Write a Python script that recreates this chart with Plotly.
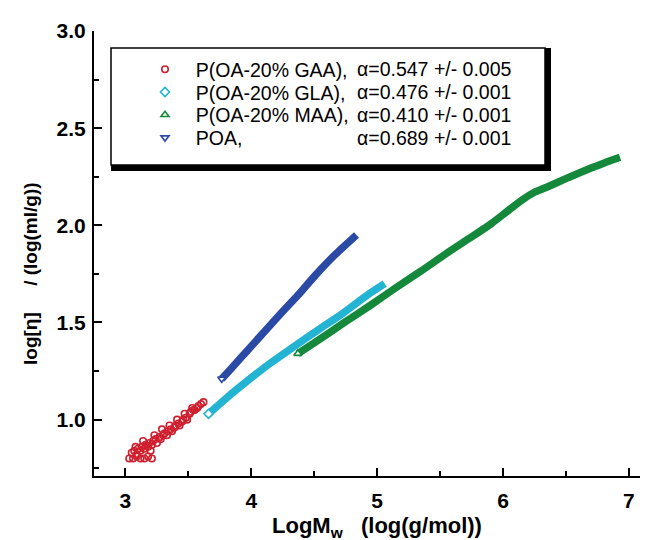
import plotly.graph_objects as go

# ---------------- data ----------------
gaa_x = [3.03, 3.06, 3.09, 3.12, 3.15, 3.18, 3.21,
         3.05, 3.07, 3.09, 3.10, 3.12, 3.13, 3.15, 3.16, 3.18, 3.19, 3.20, 3.21, 3.22,
         3.24, 3.25, 3.27, 3.28, 3.30, 3.31, 3.33, 3.34, 3.36, 3.37, 3.39, 3.40, 3.42,
         3.43, 3.45, 3.46, 3.48, 3.49, 3.51, 3.52, 3.54, 3.55, 3.57, 3.58, 3.60, 3.62,
         3.08, 3.14, 3.23, 3.29, 3.35, 3.41, 3.47, 3.53]
gaa_y = [0.80, 0.80, 0.81, 0.80, 0.80, 0.81, 0.80,
         0.83, 0.84, 0.82, 0.85, 0.84, 0.86, 0.85, 0.87, 0.86, 0.88, 0.84, 0.87, 0.89,
         0.90, 0.88, 0.91, 0.90, 0.92, 0.93, 0.92, 0.94, 0.95, 0.94, 0.96, 0.97, 0.98,
         0.97, 0.99, 1.00, 1.01, 1.00, 1.03, 1.04, 1.05, 1.05, 1.06, 1.07, 1.08, 1.09,
         0.86, 0.89, 0.92, 0.95, 0.97, 1.00, 1.03, 1.06]

gla_x = [3.66, 3.80, 3.97, 4.15, 4.37, 4.55, 4.69, 4.93, 5.06]
gla_y = [1.03, 1.11, 1.20, 1.29, 1.39, 1.47, 1.53, 1.645, 1.70]

maa_x = [4.37, 4.50, 4.74, 4.95, 5.14, 5.35, 5.55, 5.75, 5.91, 6.03, 6.15,
         6.25, 6.36, 6.50, 6.68, 6.80, 6.93]
maa_y = [1.34, 1.395, 1.50, 1.59, 1.675, 1.765, 1.855, 1.94, 2.01, 2.07, 2.13,
         2.17, 2.20, 2.24, 2.29, 2.32, 2.35]

poa_x = [3.765, 3.85, 3.975, 4.10, 4.24, 4.37, 4.505, 4.66, 4.836]
poa_y = [1.21, 1.27, 1.36, 1.45, 1.55, 1.64, 1.74, 1.845, 1.95]

names = ["P(OA-20% GAA),", "P(OA-20% GLA),", "P(OA-20% MAA),", "POA,"]
alphas = ["α=0.547 +/- 0.005", "α=0.476 +/- 0.001", "α=0.410 +/- 0.001", "α=0.689 +/- 0.001"]

RED = "#cf1f2e"
CYAN = "#22b4d2"
GREEN = "#15893b"
BLUE = "#2b4aa6"

FONT = "Arial, Liberation Sans, sans-serif"
NB = "\u00a0"

# ---------------- geometry helpers (pixels -> paper) ----------------
W, H = 648, 540
ML, MR, MT, MB = 86, 2, 23, 72
PW, PH = W - ML - MR, H - MT - MB


def px(x):
    return (x - ML) / PW


def py(y):
    return (H - MB - y) / PH


fig = go.Figure()

# dense series drawn as thick bands
for xs, ys, col in [(gla_x, gla_y, CYAN), (maa_x, maa_y, GREEN), (poa_x, poa_y, BLUE)]:
    fig.add_trace(go.Scatter(x=xs, y=ys, mode="lines", showlegend=False,
                             line=dict(color=col, width=7.5, shape="spline", smoothing=0.6),
                             hoverinfo="skip"))

# GAA scatter (open circles)
fig.add_trace(go.Scatter(x=gaa_x, y=gaa_y, mode="markers", name=NB * 2 + names[0],
                         legend="legend",
                         marker=dict(symbol="circle-open", size=6.5, color=RED,
                                     line=dict(width=1.6, color=RED))))

# first point of each band as an open marker (also the legend key)
for xs, ys, col, sym, nm, lg in [
        (gla_x, gla_y, CYAN, "diamond", names[1], "legend2"),
        (maa_x, maa_y, GREEN, "triangle-up", names[2], "legend3"),
        (poa_x, poa_y, BLUE, "triangle-down", names[3], "legend4")]:
    fig.add_trace(go.Scatter(x=xs[:1], y=ys[:1], mode="markers", name=NB * 2 + nm,
                             legend=lg,
                             marker=dict(symbol=sym, size=7, color="white",
                                         line=dict(width=1.6, color=col))))

rows = [61.5, 84.3, 107.1, 129.9]
LEG_FS = 19.5
leg_common = dict(xanchor="left", yanchor="middle", bgcolor="rgba(0,0,0,0)",
                  borderwidth=0, font=dict(family=FONT, size=LEG_FS, color="black"))
legends = {}
for i, key in enumerate(["legend", "legend2", "legend3", "legend4"]):
    legends[key] = dict(x=px(137), y=py(rows[i]), **leg_common)

annotations = []
for i, a in enumerate(alphas):
    annotations.append(dict(xref="paper", yref="paper", x=px(347), y=py(rows[i]),
                            xanchor="left", yanchor="middle", showarrow=False,
                            text=a, font=dict(family=FONT, size=LEG_FS, color="black")))

annotations.append(dict(xref="paper", yref="paper", x=px(369), y=py(519),
                        xanchor="center", yanchor="middle", showarrow=False,
                        text="LogM<sub>w</sub>" + NB * 3 + "(log(g/mol))",
                        font=dict(family=FONT, size=22, color="black", weight="bold")))
annotations.append(dict(xref="paper", yref="paper", x=px(22), y=py(266),
                        xanchor="center", yanchor="middle", showarrow=False, textangle=-90,
                        text="log[η]" + NB * 5 + "/ (log(ml/g))",
                        font=dict(family=FONT, size=19, color="black", weight="bold")))

shapes = [
    dict(type="rect", xref="paper", yref="paper", x0=px(103), x1=px(543), y0=py(40), y1=py(163),
         fillcolor="black", line=dict(width=0), layer="above"),
    dict(type="rect", xref="paper", yref="paper", x0=px(103), x1=px(537), y0=py(40), y1=py(157),
         fillcolor="white", line=dict(width=1.5, color="black"), layer="above"),
]

axis_common = dict(showgrid=False, zeroline=False, showline=True, linecolor="black",
                   linewidth=2, ticks="inside", tickcolor="black", tickwidth=1.5,
                   ticklen=8, mirror=False,
                   tickfont=dict(family=FONT, size=21, color="black", weight="bold"))

fig.update_layout(
    width=W, height=H,
    margin=dict(l=ML, r=MR, t=MT, b=MB),
    paper_bgcolor="white", plot_bgcolor="white",
    xaxis=dict(range=[2.75, 7.2], dtick=1, tick0=0,
               minor=dict(dtick=0.5, ticks="inside", ticklen=5, tickwidth=1.5, tickcolor="black"),
               ticklabelstandoff=5, **axis_common),
    yaxis=dict(range=[0.71, 3.0], dtick=0.5, tick0=0, tickformat=".1f",
               minor=dict(dtick=0.25, ticks="inside", ticklen=5, tickwidth=1.5, tickcolor="black"),
               ticklabelstandoff=2, **axis_common),
    shapes=shapes,
    annotations=annotations,
    **legends,
)

fig.write_html("out.html")
